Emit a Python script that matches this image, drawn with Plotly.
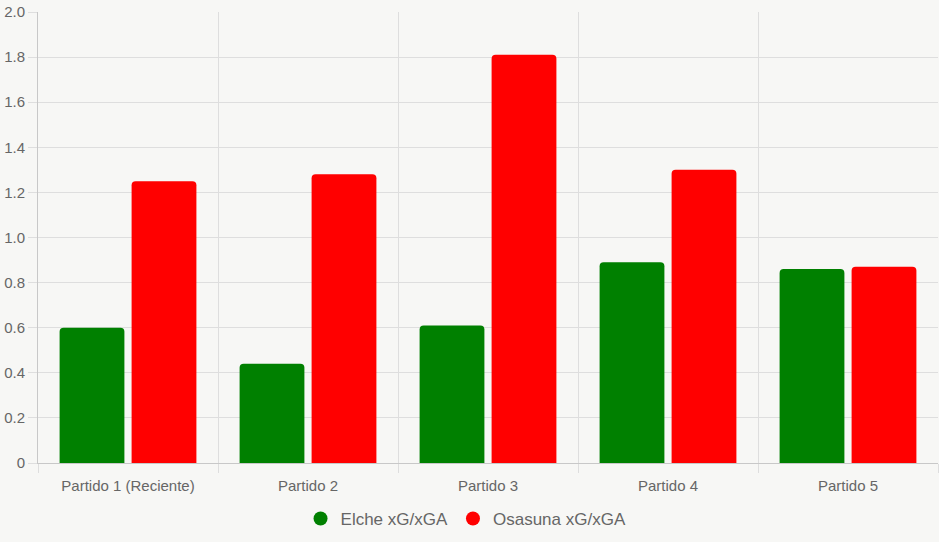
import plotly.graph_objects as go

categories = ["Partido 1 (Reciente)", "Partido 2", "Partido 3", "Partido 4", "Partido 5"]
elche = [0.60, 0.44, 0.61, 0.89, 0.86]
osasuna = [1.25, 1.28, 1.81, 1.30, 0.87]
series_names = ["Elche xG/xGA", "Osasuna xG/xGA"]
colors = ["#008000", "#ff0000"]
y_ticks = [0, 0.2, 0.4, 0.6, 0.8, 1.0, 1.2, 1.4, 1.6, 1.8, 2.0]
y_ticktext = ["0", "0.2", "0.4", "0.6", "0.8", "1.0", "1.2", "1.4", "1.6", "1.8", "2.0"]

xpos = list(range(len(categories)))
bg = "#f7f7f5"
grid = "#dedede"
font = "Liberation Sans, Arial, sans-serif"

fig = go.Figure()
for name, vals, col in zip(series_names, [elche, osasuna], colors):
    fig.add_trace(go.Bar(x=xpos, y=vals, name=name, marker=dict(color=col, line=dict(width=0)),
                         showlegend=False, hoverinfo="y"))
for name, col in zip(series_names, colors):
    fig.add_trace(go.Scatter(x=[None], y=[None], mode="markers", name=name,
                             marker=dict(color=col, size=14, symbol="circle")))

fig.update_layout(
    width=939, height=542,
    paper_bgcolor=bg, plot_bgcolor=bg,
    margin=dict(l=38, r=1, t=12, b=79),
    barmode="group", bargap=0.2, bargroupgap=0.1, barcornerradius=4,
    font=dict(family=font, color="#666666"),
    legend=dict(orientation="h", x=0.4756, xanchor="center", y=-0.124, yanchor="middle",
                font=dict(size=17, color="#666666"), itemsizing="trace", bgcolor="rgba(0,0,0,0)"),
    xaxis=dict(
        range=[-0.5, 4.5], tickvals=xpos, ticktext=categories, ticks="",
        tickfont=dict(size=15, color="#666666"), showgrid=False, zeroline=False,
        showline=True, linecolor="#c8c8c8", linewidth=1, mirror=False, ticklabelstandoff=9,
        minor=dict(tick0=-0.5, dtick=1, showgrid=True, gridcolor=grid, gridwidth=1,
                   ticks="outside", ticklen=9, tickcolor=grid),
    ),
    yaxis=dict(
        range=[0, 2.0], tickvals=y_ticks, ticktext=y_ticktext,
        tickfont=dict(size=15, color="#666666"), showgrid=True, gridcolor=grid, gridwidth=1,
        zeroline=False, showline=True, linecolor="#c8c8c8", linewidth=1,
        ticks="outside", ticklen=9, tickcolor=grid,
    ),
)

fig.write_html("out.html")
